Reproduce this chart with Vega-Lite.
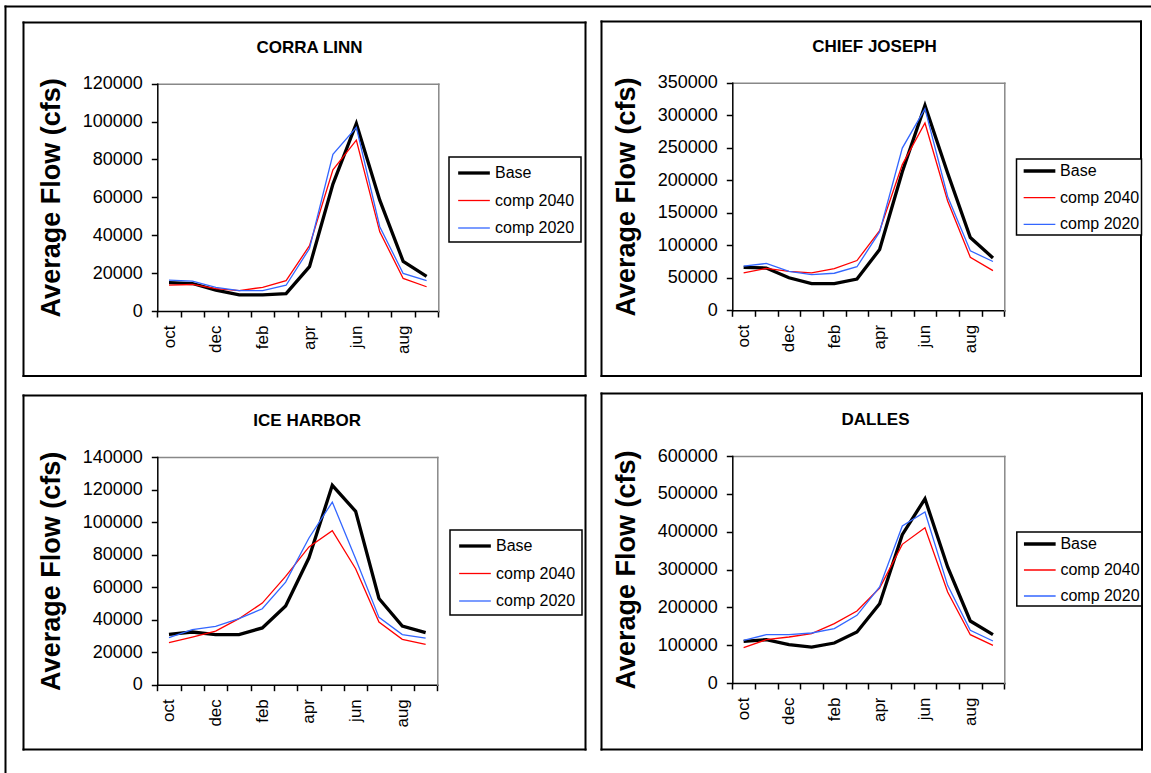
{
  "$schema": "https://vega.github.io/schema/vega-lite/v6.json",
  "width": 1151,
  "height": 773,
  "padding": 0,
  "autosize": {"type": "none"},
  "background": "white",
  "config": {
    "view": {"stroke": null},
    "font": "Liberation Sans",
    "axis": {
      "grid": false, "domainColor": "black", "tickColor": "black", "labelColor": "black", "titleColor": "black",
      "labelFont": "Liberation Sans", "titleFont": "Liberation Sans", "labelFontSize": 17, "titleFontSize": 27,
      "titleFontWeight": "bold", "domainWidth": 1.5, "tickWidth": 1.5, "labelFlush": false, "labelOverlap": false,
      "domainCap": "square", "minExtent": 0
    },
    "legend": {"strokeWidth": 1.5}
  },
  "data": {"values": [
    {"site":"CORRA LINN","series":"Base","m":0,"month":"oct","flow":15000},
    {"site":"CORRA LINN","series":"Base","m":1,"month":"nov","flow":14500},
    {"site":"CORRA LINN","series":"Base","m":2,"month":"dec","flow":11000},
    {"site":"CORRA LINN","series":"Base","m":3,"month":"jan","flow":8500},
    {"site":"CORRA LINN","series":"Base","m":4,"month":"feb","flow":8500},
    {"site":"CORRA LINN","series":"Base","m":5,"month":"mar","flow":9200},
    {"site":"CORRA LINN","series":"Base","m":6,"month":"apr","flow":23400},
    {"site":"CORRA LINN","series":"Base","m":7,"month":"may","flow":67000},
    {"site":"CORRA LINN","series":"Base","m":8,"month":"jun","flow":99000},
    {"site":"CORRA LINN","series":"Base","m":9,"month":"jul","flow":58500},
    {"site":"CORRA LINN","series":"Base","m":10,"month":"aug","flow":26200},
    {"site":"CORRA LINN","series":"Base","m":11,"month":"sep","flow":18300},
    {"site":"CORRA LINN","series":"comp 2040","m":0,"month":"oct","flow":13700},
    {"site":"CORRA LINN","series":"comp 2040","m":1,"month":"nov","flow":14000},
    {"site":"CORRA LINN","series":"comp 2040","m":2,"month":"dec","flow":11800},
    {"site":"CORRA LINN","series":"comp 2040","m":3,"month":"jan","flow":10800},
    {"site":"CORRA LINN","series":"comp 2040","m":4,"month":"feb","flow":12500},
    {"site":"CORRA LINN","series":"comp 2040","m":5,"month":"mar","flow":16000},
    {"site":"CORRA LINN","series":"comp 2040","m":6,"month":"apr","flow":34500},
    {"site":"CORRA LINN","series":"comp 2040","m":7,"month":"may","flow":74500},
    {"site":"CORRA LINN","series":"comp 2040","m":8,"month":"jun","flow":90200},
    {"site":"CORRA LINN","series":"comp 2040","m":9,"month":"jul","flow":41800},
    {"site":"CORRA LINN","series":"comp 2040","m":10,"month":"aug","flow":17200},
    {"site":"CORRA LINN","series":"comp 2040","m":11,"month":"sep","flow":12800},
    {"site":"CORRA LINN","series":"comp 2020","m":0,"month":"oct","flow":16300},
    {"site":"CORRA LINN","series":"comp 2020","m":1,"month":"nov","flow":15800},
    {"site":"CORRA LINN","series":"comp 2020","m":2,"month":"dec","flow":12500},
    {"site":"CORRA LINN","series":"comp 2020","m":3,"month":"jan","flow":10800},
    {"site":"CORRA LINN","series":"comp 2020","m":4,"month":"feb","flow":10800},
    {"site":"CORRA LINN","series":"comp 2020","m":5,"month":"mar","flow":13600},
    {"site":"CORRA LINN","series":"comp 2020","m":6,"month":"apr","flow":33000},
    {"site":"CORRA LINN","series":"comp 2020","m":7,"month":"may","flow":82700},
    {"site":"CORRA LINN","series":"comp 2020","m":8,"month":"jun","flow":97000},
    {"site":"CORRA LINN","series":"comp 2020","m":9,"month":"jul","flow":44500},
    {"site":"CORRA LINN","series":"comp 2020","m":10,"month":"aug","flow":19800},
    {"site":"CORRA LINN","series":"comp 2020","m":11,"month":"sep","flow":16000},
    {"site":"CHIEF JOSEPH","series":"Base","m":0,"month":"oct","flow":66000},
    {"site":"CHIEF JOSEPH","series":"Base","m":1,"month":"nov","flow":65000},
    {"site":"CHIEF JOSEPH","series":"Base","m":2,"month":"dec","flow":50000},
    {"site":"CHIEF JOSEPH","series":"Base","m":3,"month":"jan","flow":41000},
    {"site":"CHIEF JOSEPH","series":"Base","m":4,"month":"feb","flow":41000},
    {"site":"CHIEF JOSEPH","series":"Base","m":5,"month":"mar","flow":48000},
    {"site":"CHIEF JOSEPH","series":"Base","m":6,"month":"apr","flow":93500},
    {"site":"CHIEF JOSEPH","series":"Base","m":7,"month":"may","flow":213000},
    {"site":"CHIEF JOSEPH","series":"Base","m":8,"month":"jun","flow":315000},
    {"site":"CHIEF JOSEPH","series":"Base","m":9,"month":"jul","flow":211000},
    {"site":"CHIEF JOSEPH","series":"Base","m":10,"month":"aug","flow":112000},
    {"site":"CHIEF JOSEPH","series":"Base","m":11,"month":"sep","flow":80500},
    {"site":"CHIEF JOSEPH","series":"comp 2040","m":0,"month":"oct","flow":57500},
    {"site":"CHIEF JOSEPH","series":"comp 2040","m":1,"month":"nov","flow":64500},
    {"site":"CHIEF JOSEPH","series":"comp 2040","m":2,"month":"dec","flow":60000},
    {"site":"CHIEF JOSEPH","series":"comp 2040","m":3,"month":"jan","flow":57500},
    {"site":"CHIEF JOSEPH","series":"comp 2040","m":4,"month":"feb","flow":64000},
    {"site":"CHIEF JOSEPH","series":"comp 2040","m":5,"month":"mar","flow":76500},
    {"site":"CHIEF JOSEPH","series":"comp 2040","m":6,"month":"apr","flow":122500},
    {"site":"CHIEF JOSEPH","series":"comp 2040","m":7,"month":"may","flow":224000},
    {"site":"CHIEF JOSEPH","series":"comp 2040","m":8,"month":"jun","flow":288000},
    {"site":"CHIEF JOSEPH","series":"comp 2040","m":9,"month":"jul","flow":168000},
    {"site":"CHIEF JOSEPH","series":"comp 2040","m":10,"month":"aug","flow":81500},
    {"site":"CHIEF JOSEPH","series":"comp 2040","m":11,"month":"sep","flow":61000},
    {"site":"CHIEF JOSEPH","series":"comp 2020","m":0,"month":"oct","flow":68000},
    {"site":"CHIEF JOSEPH","series":"comp 2020","m":1,"month":"nov","flow":72000},
    {"site":"CHIEF JOSEPH","series":"comp 2020","m":2,"month":"dec","flow":60000},
    {"site":"CHIEF JOSEPH","series":"comp 2020","m":3,"month":"jan","flow":55000},
    {"site":"CHIEF JOSEPH","series":"comp 2020","m":4,"month":"feb","flow":57000},
    {"site":"CHIEF JOSEPH","series":"comp 2020","m":5,"month":"mar","flow":67000},
    {"site":"CHIEF JOSEPH","series":"comp 2020","m":6,"month":"apr","flow":120500},
    {"site":"CHIEF JOSEPH","series":"comp 2020","m":7,"month":"may","flow":249500},
    {"site":"CHIEF JOSEPH","series":"comp 2020","m":8,"month":"jun","flow":310000},
    {"site":"CHIEF JOSEPH","series":"comp 2020","m":9,"month":"jul","flow":175000},
    {"site":"CHIEF JOSEPH","series":"comp 2020","m":10,"month":"aug","flow":91500},
    {"site":"CHIEF JOSEPH","series":"comp 2020","m":11,"month":"sep","flow":75000},
    {"site":"ICE HARBOR","series":"Base","m":0,"month":"oct","flow":31000},
    {"site":"ICE HARBOR","series":"Base","m":1,"month":"nov","flow":32400},
    {"site":"ICE HARBOR","series":"Base","m":2,"month":"dec","flow":30800},
    {"site":"ICE HARBOR","series":"Base","m":3,"month":"jan","flow":30800},
    {"site":"ICE HARBOR","series":"Base","m":4,"month":"feb","flow":34900},
    {"site":"ICE HARBOR","series":"Base","m":5,"month":"mar","flow":48400},
    {"site":"ICE HARBOR","series":"Base","m":6,"month":"apr","flow":78000},
    {"site":"ICE HARBOR","series":"Base","m":7,"month":"may","flow":122600},
    {"site":"ICE HARBOR","series":"Base","m":8,"month":"jun","flow":106600},
    {"site":"ICE HARBOR","series":"Base","m":9,"month":"jul","flow":53000},
    {"site":"ICE HARBOR","series":"Base","m":10,"month":"aug","flow":36100},
    {"site":"ICE HARBOR","series":"Base","m":11,"month":"sep","flow":32000},
    {"site":"ICE HARBOR","series":"comp 2040","m":0,"month":"oct","flow":25800},
    {"site":"ICE HARBOR","series":"comp 2040","m":1,"month":"nov","flow":29300},
    {"site":"ICE HARBOR","series":"comp 2040","m":2,"month":"dec","flow":33000},
    {"site":"ICE HARBOR","series":"comp 2040","m":3,"month":"jan","flow":40600},
    {"site":"ICE HARBOR","series":"comp 2040","m":4,"month":"feb","flow":50200},
    {"site":"ICE HARBOR","series":"comp 2040","m":5,"month":"mar","flow":66600},
    {"site":"ICE HARBOR","series":"comp 2040","m":6,"month":"apr","flow":84700},
    {"site":"ICE HARBOR","series":"comp 2040","m":7,"month":"may","flow":94700},
    {"site":"ICE HARBOR","series":"comp 2040","m":8,"month":"jun","flow":71300},
    {"site":"ICE HARBOR","series":"comp 2040","m":9,"month":"jul","flow":38500},
    {"site":"ICE HARBOR","series":"comp 2040","m":10,"month":"aug","flow":27900},
    {"site":"ICE HARBOR","series":"comp 2040","m":11,"month":"sep","flow":24800},
    {"site":"ICE HARBOR","series":"comp 2020","m":0,"month":"oct","flow":28900},
    {"site":"ICE HARBOR","series":"comp 2020","m":1,"month":"nov","flow":33800},
    {"site":"ICE HARBOR","series":"comp 2020","m":2,"month":"dec","flow":35900},
    {"site":"ICE HARBOR","series":"comp 2020","m":3,"month":"jan","flow":40600},
    {"site":"ICE HARBOR","series":"comp 2020","m":4,"month":"feb","flow":46700},
    {"site":"ICE HARBOR","series":"comp 2020","m":5,"month":"mar","flow":63100},
    {"site":"ICE HARBOR","series":"comp 2020","m":6,"month":"apr","flow":90200},
    {"site":"ICE HARBOR","series":"comp 2020","m":7,"month":"may","flow":112300},
    {"site":"ICE HARBOR","series":"comp 2020","m":8,"month":"jun","flow":77500},
    {"site":"ICE HARBOR","series":"comp 2020","m":9,"month":"jul","flow":41400},
    {"site":"ICE HARBOR","series":"comp 2020","m":10,"month":"aug","flow":30800},
    {"site":"ICE HARBOR","series":"comp 2020","m":11,"month":"sep","flow":28700},
    {"site":"DALLES","series":"Base","m":0,"month":"oct","flow":110000},
    {"site":"DALLES","series":"Base","m":1,"month":"nov","flow":114500},
    {"site":"DALLES","series":"Base","m":2,"month":"dec","flow":101300},
    {"site":"DALLES","series":"Base","m":3,"month":"jan","flow":95100},
    {"site":"DALLES","series":"Base","m":4,"month":"feb","flow":105700},
    {"site":"DALLES","series":"Base","m":5,"month":"mar","flow":134800},
    {"site":"DALLES","series":"Base","m":6,"month":"apr","flow":209700},
    {"site":"DALLES","series":"Base","m":7,"month":"may","flow":392000},
    {"site":"DALLES","series":"Base","m":8,"month":"jun","flow":487000},
    {"site":"DALLES","series":"Base","m":9,"month":"jul","flow":306600},
    {"site":"DALLES","series":"Base","m":10,"month":"aug","flow":163900},
    {"site":"DALLES","series":"Base","m":11,"month":"sep","flow":127700},
    {"site":"DALLES","series":"comp 2040","m":0,"month":"oct","flow":93400},
    {"site":"DALLES","series":"comp 2040","m":1,"month":"nov","flow":114500},
    {"site":"DALLES","series":"comp 2040","m":2,"month":"dec","flow":121600},
    {"site":"DALLES","series":"comp 2040","m":3,"month":"jan","flow":130400},
    {"site":"DALLES","series":"comp 2040","m":4,"month":"feb","flow":156800},
    {"site":"DALLES","series":"comp 2040","m":5,"month":"mar","flow":190300},
    {"site":"DALLES","series":"comp 2040","m":6,"month":"apr","flow":251100},
    {"site":"DALLES","series":"comp 2040","m":7,"month":"may","flow":366500},
    {"site":"DALLES","series":"comp 2040","m":8,"month":"jun","flow":410500},
    {"site":"DALLES","series":"comp 2040","m":9,"month":"jul","flow":240500},
    {"site":"DALLES","series":"comp 2040","m":10,"month":"aug","flow":127700},
    {"site":"DALLES","series":"comp 2040","m":11,"month":"sep","flow":99600},
    {"site":"DALLES","series":"comp 2020","m":0,"month":"oct","flow":112800},
    {"site":"DALLES","series":"comp 2020","m":1,"month":"nov","flow":127700},
    {"site":"DALLES","series":"comp 2020","m":2,"month":"dec","flow":127700},
    {"site":"DALLES","series":"comp 2020","m":3,"month":"jan","flow":132200},
    {"site":"DALLES","series":"comp 2020","m":4,"month":"feb","flow":143600},
    {"site":"DALLES","series":"comp 2020","m":5,"month":"mar","flow":178800},
    {"site":"DALLES","series":"comp 2020","m":6,"month":"apr","flow":253700},
    {"site":"DALLES","series":"comp 2020","m":7,"month":"may","flow":415000},
    {"site":"DALLES","series":"comp 2020","m":8,"month":"jun","flow":452000},
    {"site":"DALLES","series":"comp 2020","m":9,"month":"jul","flow":258100},
    {"site":"DALLES","series":"comp 2020","m":10,"month":"aug","flow":139200},
    {"site":"DALLES","series":"comp 2020","m":11,"month":"sep","flow":111000}
  ]},
  "layer": [
    {
      "transform": [{"filter": "datum.site === 'CORRA LINN'"}],
      "layer": [
        {
          "mark": {"type": "line"},
          "encoding": {
            "x": {"field": "m", "type": "quantitative", "scale": {"domain": [-0.5, 11.5], "range": [157.3, 438.3]},
              "axis": {"orient": "bottom", "offset": -462, "values": [0, 2, 4, 6, 8, 10], "labelExpr": "['oct','nov','dec','jan','feb','mar','apr','may','jun','jul','aug','sep'][datum.value]", "labelAngle": -90, "ticks": false, "tickSize": 0, "labelPadding": 14, "title": null}},
            "y": {"field": "flow", "type": "quantitative", "scale": {"domain": [0, 120000], "range": [311, 83.7], "nice": false},
              "axis": {"orient": "left", "offset": -157.3, "values": [0, 20000, 40000, 60000, 80000, 100000, 120000], "format": "d", "tickSize": 6, "labelPadding": 9, "labelFontSize": 18, "title": "Average Flow (cfs)", "titlePadding": 17}},
            "color": {"field": "series", "type": "nominal", "scale": {"domain": ["Base", "comp 2040", "comp 2020"], "range": ["#000000", "#FF0000", "#3366FF"]},
              "legend": {"orient": "none", "legendX": 449, "legendY": 157, "title": null, "strokeColor": "black", "fillColor": "white", "padding": 6, "symbolType": "M-2,0H2", "symbolSize": 251, "symbolOffset": 9, "labelOffset": 11, "labelFontSize": 16, "labelFont": "Liberation Sans", "labelColor": "black", "rowPadding": 10.5}},
            "strokeWidth": {"field": "series", "type": "nominal", "scale": {"type": "ordinal", "domain": ["Base", "comp 2040", "comp 2020"], "range": [3.3, 1.3, 1.3]},
              "legend": {"orient": "none", "legendX": 449, "legendY": 157, "title": null, "strokeColor": "black", "fillColor": "white", "padding": 6, "symbolType": "M-2,0H2", "symbolSize": 251, "symbolOffset": 9, "labelOffset": 11, "labelFontSize": 16, "labelFont": "Liberation Sans", "labelColor": "black", "rowPadding": 10.5}}
          }
        },
        {
          "mark": {"type": "point", "opacity": 0},
          "encoding": {
            "x": {"field": "m", "type": "quantitative", "scale": {"domain": [-0.5, 11.5], "range": [157.3, 438.3]},
              "axis": {"orient": "bottom", "offset": -462, "values": [-0.5, 0.5, 1.5, 2.5, 3.5, 4.5, 5.5, 6.5, 7.5, 8.5, 9.5, 10.5, 11.5], "labels": false, "domain": false, "tickSize": 6, "title": null}},
            "y": {"field": "flow", "type": "quantitative", "scale": {"domain": [0, 120000], "range": [311, 83.7], "nice": false},
              "axis": {"orient": "right", "offset": -712.7, "labels": false, "ticks": false, "domainColor": "#888888", "title": null}}
          }
        },
        {
          "mark": {"type": "point", "opacity": 0},
          "encoding": {
            "x": {"field": "m", "type": "quantitative", "scale": {"domain": [-0.5, 11.5], "range": [157.3, 438.3]},
              "axis": {"orient": "top", "offset": -83.7, "labels": false, "ticks": false, "domainColor": "#888888", "title": "CORRA LINN", "titleX": 309, "titleY": -35.9, "titleBaseline": "middle", "titleAlign": "center", "titleFontSize": 17}},
            "y": {"field": "flow", "type": "quantitative", "scale": {"domain": [0, 120000], "range": [311, 83.7], "nice": false}, "axis": null}
          }
        }
      ],
      "resolve": {"axis": {"x": "independent", "y": "independent"}}
    },
    {
      "transform": [{"filter": "datum.site === 'CHIEF JOSEPH'"}],
      "layer": [
        {
          "mark": {"type": "line"},
          "encoding": {
            "x": {"field": "m", "type": "quantitative", "scale": {"domain": [-0.5, 11.5], "range": [732.3, 1004.3]},
              "axis": {"orient": "bottom", "offset": -462.7, "values": [0, 2, 4, 6, 8, 10], "labelExpr": "['oct','nov','dec','jan','feb','mar','apr','may','jun','jul','aug','sep'][datum.value]", "labelAngle": -90, "ticks": false, "tickSize": 0, "labelPadding": 14, "title": null}},
            "y": {"field": "flow", "type": "quantitative", "scale": {"domain": [0, 350000], "range": [310.3, 82.7], "nice": false},
              "axis": {"orient": "left", "offset": -732.3, "values": [0, 50000, 100000, 150000, 200000, 250000, 300000, 350000], "format": "d", "tickSize": 6, "labelPadding": 9, "labelFontSize": 18, "title": "Average Flow (cfs)", "titlePadding": 17}},
            "color": {"field": "series", "type": "nominal", "scale": {"domain": ["Base", "comp 2040", "comp 2020"], "range": ["#000000", "#FF0000", "#3366FF"]},
              "legend": {"orient": "none", "legendX": 1016.5, "legendY": 159, "title": null, "strokeColor": "black", "fillColor": "white", "padding": 2, "symbolType": "M-2,0H2", "symbolSize": 251, "symbolOffset": 11, "labelOffset": 10.6, "labelFontSize": 16, "labelFont": "Liberation Sans", "labelColor": "black", "rowPadding": 9.7}},
            "strokeWidth": {"field": "series", "type": "nominal", "scale": {"type": "ordinal", "domain": ["Base", "comp 2040", "comp 2020"], "range": [3.3, 1.3, 1.3]},
              "legend": {"orient": "none", "legendX": 1016.5, "legendY": 159, "title": null, "strokeColor": "black", "fillColor": "white", "padding": 2, "symbolType": "M-2,0H2", "symbolSize": 251, "symbolOffset": 11, "labelOffset": 10.6, "labelFontSize": 16, "labelFont": "Liberation Sans", "labelColor": "black", "rowPadding": 9.7}}
          }
        },
        {
          "mark": {"type": "point", "opacity": 0},
          "encoding": {
            "x": {"field": "m", "type": "quantitative", "scale": {"domain": [-0.5, 11.5], "range": [732.3, 1004.3]},
              "axis": {"orient": "bottom", "offset": -462.7, "values": [-0.5, 0.5, 1.5, 2.5, 3.5, 4.5, 5.5, 6.5, 7.5, 8.5, 9.5, 10.5, 11.5], "labels": false, "domain": false, "tickSize": 6, "title": null}},
            "y": {"field": "flow", "type": "quantitative", "scale": {"domain": [0, 350000], "range": [310.3, 82.7], "nice": false},
              "axis": {"orient": "right", "offset": -146.7, "labels": false, "ticks": false, "domainColor": "#888888", "title": null}}
          }
        },
        {
          "mark": {"type": "point", "opacity": 0},
          "encoding": {
            "x": {"field": "m", "type": "quantitative", "scale": {"domain": [-0.5, 11.5], "range": [732.3, 1004.3]},
              "axis": {"orient": "top", "offset": -82.7, "labels": false, "ticks": false, "domainColor": "#888888", "title": "CHIEF JOSEPH", "titleX": 874, "titleY": -36.6, "titleBaseline": "middle", "titleAlign": "center", "titleFontSize": 17}},
            "y": {"field": "flow", "type": "quantitative", "scale": {"domain": [0, 350000], "range": [310.3, 82.7], "nice": false}, "axis": null}
          }
        }
      ],
      "resolve": {"axis": {"x": "independent", "y": "independent"}}
    },
    {
      "transform": [{"filter": "datum.site === 'ICE HARBOR'"}],
      "layer": [
        {
          "mark": {"type": "line"},
          "encoding": {
            "x": {"field": "m", "type": "quantitative", "scale": {"domain": [-0.5, 11.5], "range": [157.3, 437.3]},
              "axis": {"orient": "bottom", "offset": -88.3, "values": [0, 2, 4, 6, 8, 10], "labelExpr": "['oct','nov','dec','jan','feb','mar','apr','may','jun','jul','aug','sep'][datum.value]", "labelAngle": -90, "ticks": false, "tickSize": 0, "labelPadding": 14, "title": null}},
            "y": {"field": "flow", "type": "quantitative", "scale": {"domain": [0, 140000], "range": [684.7, 457], "nice": false},
              "axis": {"orient": "left", "offset": -157.3, "values": [0, 20000, 40000, 60000, 80000, 100000, 120000, 140000], "format": "d", "tickSize": 6, "labelPadding": 9, "labelFontSize": 18, "title": "Average Flow (cfs)", "titlePadding": 17}},
            "color": {"field": "series", "type": "nominal", "scale": {"domain": ["Base", "comp 2040", "comp 2020"], "range": ["#000000", "#FF0000", "#3366FF"]},
              "legend": {"orient": "none", "legendX": 450, "legendY": 530, "title": null, "strokeColor": "black", "fillColor": "white", "padding": 6, "symbolType": "M-2,0H2", "symbolSize": 251, "symbolOffset": 9, "labelOffset": 11, "labelFontSize": 16, "labelFont": "Liberation Sans", "labelColor": "black", "rowPadding": 10.5}},
            "strokeWidth": {"field": "series", "type": "nominal", "scale": {"type": "ordinal", "domain": ["Base", "comp 2040", "comp 2020"], "range": [3.3, 1.3, 1.3]},
              "legend": {"orient": "none", "legendX": 450, "legendY": 530, "title": null, "strokeColor": "black", "fillColor": "white", "padding": 6, "symbolType": "M-2,0H2", "symbolSize": 251, "symbolOffset": 9, "labelOffset": 11, "labelFontSize": 16, "labelFont": "Liberation Sans", "labelColor": "black", "rowPadding": 10.5}}
          }
        },
        {
          "mark": {"type": "point", "opacity": 0},
          "encoding": {
            "x": {"field": "m", "type": "quantitative", "scale": {"domain": [-0.5, 11.5], "range": [157.3, 437.3]},
              "axis": {"orient": "bottom", "offset": -88.3, "values": [-0.5, 0.5, 1.5, 2.5, 3.5, 4.5, 5.5, 6.5, 7.5, 8.5, 9.5, 10.5, 11.5], "labels": false, "domain": false, "tickSize": 6, "title": null}},
            "y": {"field": "flow", "type": "quantitative", "scale": {"domain": [0, 140000], "range": [684.7, 457], "nice": false},
              "axis": {"orient": "right", "offset": -713.7, "labels": false, "ticks": false, "domainColor": "#888888", "title": null}}
          }
        },
        {
          "mark": {"type": "point", "opacity": 0},
          "encoding": {
            "x": {"field": "m", "type": "quantitative", "scale": {"domain": [-0.5, 11.5], "range": [157.3, 437.3]},
              "axis": {"orient": "top", "offset": -457, "labels": false, "ticks": false, "domainColor": "#888888", "title": "ICE HARBOR", "titleX": 306.7, "titleY": -36.6, "titleBaseline": "middle", "titleAlign": "center", "titleFontSize": 17}},
            "y": {"field": "flow", "type": "quantitative", "scale": {"domain": [0, 140000], "range": [684.7, 457], "nice": false}, "axis": null}
          }
        }
      ],
      "resolve": {"axis": {"x": "independent", "y": "independent"}}
    },
    {
      "transform": [{"filter": "datum.site === 'DALLES'"}],
      "layer": [
        {
          "mark": {"type": "line"},
          "encoding": {
            "x": {"field": "m", "type": "quantitative", "scale": {"domain": [-0.5, 11.5], "range": [732.3, 1004.3]},
              "axis": {"orient": "bottom", "offset": -90, "values": [0, 2, 4, 6, 8, 10], "labelExpr": "['oct','nov','dec','jan','feb','mar','apr','may','jun','jul','aug','sep'][datum.value]", "labelAngle": -90, "ticks": false, "tickSize": 0, "labelPadding": 14, "title": null}},
            "y": {"field": "flow", "type": "quantitative", "scale": {"domain": [0, 600000], "range": [683, 456], "nice": false},
              "axis": {"orient": "left", "offset": -732.3, "values": [0, 100000, 200000, 300000, 400000, 500000, 600000], "format": "d", "tickSize": 6, "labelPadding": 9, "labelFontSize": 18, "title": "Average Flow (cfs)", "titlePadding": 17}},
            "color": {"field": "series", "type": "nominal", "scale": {"domain": ["Base", "comp 2040", "comp 2020"], "range": ["#000000", "#FF0000", "#3366FF"]},
              "legend": {"orient": "none", "legendX": 1016.8, "legendY": 532, "title": null, "strokeColor": "black", "fillColor": "white", "padding": 2, "symbolType": "M-2,0H2", "symbolSize": 251, "symbolOffset": 11, "labelOffset": 10.6, "labelFontSize": 16, "labelFont": "Liberation Sans", "labelColor": "black", "rowPadding": 9}},
            "strokeWidth": {"field": "series", "type": "nominal", "scale": {"type": "ordinal", "domain": ["Base", "comp 2040", "comp 2020"], "range": [3.3, 1.3, 1.3]},
              "legend": {"orient": "none", "legendX": 1016.8, "legendY": 532, "title": null, "strokeColor": "black", "fillColor": "white", "padding": 2, "symbolType": "M-2,0H2", "symbolSize": 251, "symbolOffset": 11, "labelOffset": 10.6, "labelFontSize": 16, "labelFont": "Liberation Sans", "labelColor": "black", "rowPadding": 9}}
          }
        },
        {
          "mark": {"type": "point", "opacity": 0},
          "encoding": {
            "x": {"field": "m", "type": "quantitative", "scale": {"domain": [-0.5, 11.5], "range": [732.3, 1004.3]},
              "axis": {"orient": "bottom", "offset": -90, "values": [-0.5, 0.5, 1.5, 2.5, 3.5, 4.5, 5.5, 6.5, 7.5, 8.5, 9.5, 10.5, 11.5], "labels": false, "domain": false, "tickSize": 6, "title": null}},
            "y": {"field": "flow", "type": "quantitative", "scale": {"domain": [0, 600000], "range": [683, 456], "nice": false},
              "axis": {"orient": "right", "offset": -146.7, "labels": false, "ticks": false, "domainColor": "#888888", "title": null}}
          }
        },
        {
          "mark": {"type": "point", "opacity": 0},
          "encoding": {
            "x": {"field": "m", "type": "quantitative", "scale": {"domain": [-0.5, 11.5], "range": [732.3, 1004.3]},
              "axis": {"orient": "top", "offset": -456, "labels": false, "ticks": false, "domainColor": "#888888", "title": "DALLES", "titleX": 875, "titleY": -36.6, "titleBaseline": "middle", "titleAlign": "center", "titleFontSize": 17}},
            "y": {"field": "flow", "type": "quantitative", "scale": {"domain": [0, 600000], "range": [683, 456], "nice": false}, "axis": null}
          }
        }
      ],
      "resolve": {"axis": {"x": "independent", "y": "independent"}}
    },
    {
      "transform": [{"filter": "datum.site === 'CORRA LINN'"}],
      "layer": [
        {"mark": {"type": "point", "opacity": 0}, "encoding": {
          "x": {"field": "m", "type": "quantitative", "scale": {"domain": [0, 11], "range": [23, 585]}, "axis": {"orient": "bottom", "offset": -397.5, "labels": false, "ticks": false, "title": null, "domainWidth": 2}},
          "y": {"field": "flow", "type": "quantitative", "scale": {"domain": [0, 120000], "range": [375.5, 22], "nice": false}, "axis": {"orient": "left", "offset": -23, "labels": false, "ticks": false, "title": null, "domainWidth": 2}}}},
        {"mark": {"type": "point", "opacity": 0}, "encoding": {
          "x": {"field": "m", "type": "quantitative", "scale": {"domain": [0, 11], "range": [23, 585]}, "axis": {"orient": "top", "offset": -22, "labels": false, "ticks": false, "title": null, "domainWidth": 2}},
          "y": {"field": "flow", "type": "quantitative", "scale": {"domain": [0, 120000], "range": [375.5, 22], "nice": false}, "axis": {"orient": "right", "offset": -566, "labels": false, "ticks": false, "title": null, "domainWidth": 2}}}}
      ],
      "resolve": {"axis": {"x": "independent", "y": "independent"}}
    },
    {
      "transform": [{"filter": "datum.site === 'CHIEF JOSEPH'"}],
      "layer": [
        {"mark": {"type": "point", "opacity": 0}, "encoding": {
          "x": {"field": "m", "type": "quantitative", "scale": {"domain": [0, 11], "range": [601, 1140.5]}, "axis": {"orient": "bottom", "offset": -397.5, "labels": false, "ticks": false, "title": null, "domainWidth": 2}},
          "y": {"field": "flow", "type": "quantitative", "scale": {"domain": [0, 350000], "range": [375.5, 21], "nice": false}, "axis": {"orient": "left", "offset": -601, "labels": false, "ticks": false, "title": null, "domainWidth": 2}}}},
        {"mark": {"type": "point", "opacity": 0}, "encoding": {
          "x": {"field": "m", "type": "quantitative", "scale": {"domain": [0, 11], "range": [601, 1140.5]}, "axis": {"orient": "top", "offset": -21, "labels": false, "ticks": false, "title": null, "domainWidth": 2}},
          "y": {"field": "flow", "type": "quantitative", "scale": {"domain": [0, 350000], "range": [375.5, 21], "nice": false}, "axis": {"orient": "right", "offset": -10.5, "labels": false, "ticks": false, "title": null, "domainWidth": 2}}}}
      ],
      "resolve": {"axis": {"x": "independent", "y": "independent"}}
    },
    {
      "transform": [{"filter": "datum.site === 'ICE HARBOR'"}],
      "layer": [
        {"mark": {"type": "point", "opacity": 0}, "encoding": {
          "x": {"field": "m", "type": "quantitative", "scale": {"domain": [0, 11], "range": [23, 585]}, "axis": {"orient": "bottom", "offset": -24, "labels": false, "ticks": false, "title": null, "domainWidth": 2}},
          "y": {"field": "flow", "type": "quantitative", "scale": {"domain": [0, 140000], "range": [749, 395], "nice": false}, "axis": {"orient": "left", "offset": -23, "labels": false, "ticks": false, "title": null, "domainWidth": 2}}}},
        {"mark": {"type": "point", "opacity": 0}, "encoding": {
          "x": {"field": "m", "type": "quantitative", "scale": {"domain": [0, 11], "range": [23, 585]}, "axis": {"orient": "top", "offset": -395, "labels": false, "ticks": false, "title": null, "domainWidth": 2}},
          "y": {"field": "flow", "type": "quantitative", "scale": {"domain": [0, 140000], "range": [749, 395], "nice": false}, "axis": {"orient": "right", "offset": -566, "labels": false, "ticks": false, "title": null, "domainWidth": 2}}}}
      ],
      "resolve": {"axis": {"x": "independent", "y": "independent"}}
    },
    {
      "transform": [{"filter": "datum.site === 'DALLES'"}],
      "layer": [
        {"mark": {"type": "point", "opacity": 0}, "encoding": {
          "x": {"field": "m", "type": "quantitative", "scale": {"domain": [0, 11], "range": [601, 1141.5]}, "axis": {"orient": "bottom", "offset": -24, "labels": false, "ticks": false, "title": null, "domainWidth": 2}},
          "y": {"field": "flow", "type": "quantitative", "scale": {"domain": [0, 600000], "range": [749, 393], "nice": false}, "axis": {"orient": "left", "offset": -601, "labels": false, "ticks": false, "title": null, "domainWidth": 2}}}},
        {"mark": {"type": "point", "opacity": 0}, "encoding": {
          "x": {"field": "m", "type": "quantitative", "scale": {"domain": [0, 11], "range": [601, 1141.5]}, "axis": {"orient": "top", "offset": -393, "labels": false, "ticks": false, "title": null, "domainWidth": 2}},
          "y": {"field": "flow", "type": "quantitative", "scale": {"domain": [0, 600000], "range": [749, 393], "nice": false}, "axis": {"orient": "right", "offset": -9.5, "labels": false, "ticks": false, "title": null, "domainWidth": 2}}}}
      ],
      "resolve": {"axis": {"x": "independent", "y": "independent"}}
    },
    {
      "transform": [{"filter": "datum.site === 'DALLES'"}],
      "mark": {"type": "point", "opacity": 0},
      "encoding": {
        "x": {"field": "m", "type": "quantitative", "scale": {"domain": [0, 11], "range": [5, 1151]}, "axis": {"orient": "top", "offset": -6, "labels": false, "ticks": false, "title": null, "domainWidth": 2}},
        "y": {"field": "flow", "type": "quantitative", "scale": {"domain": [0, 600000], "range": [773, 6], "nice": false}, "axis": {"orient": "left", "offset": -5, "labels": false, "ticks": false, "title": null, "domainWidth": 2}}
      }
    }
  ],
  "resolve": {
    "scale": {"x": "independent", "y": "independent", "color": "independent", "strokeWidth": "independent"},
    "axis": {"x": "independent", "y": "independent"},
    "legend": {"color": "independent", "strokeWidth": "independent"}
  }
}
